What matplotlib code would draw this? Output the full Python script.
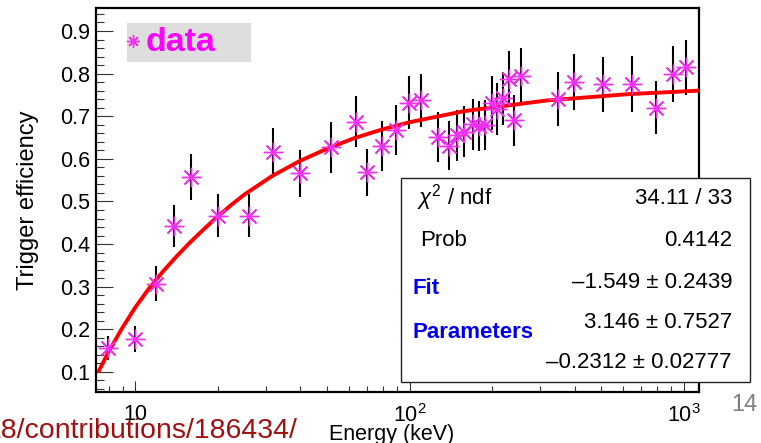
import numpy as np
import matplotlib
matplotlib.use("Agg")
import matplotlib.pyplot as plt
from matplotlib.ticker import FixedLocator, LogLocator, MultipleLocator, FormatStrFormatter, NullFormatter
from matplotlib.patches import Rectangle
from matplotlib.lines import Line2D

plt.rcParams['font.family'] = ['Liberation Sans', 'DejaVu Sans']
plt.rcParams['mathtext.fontset'] = 'custom'
plt.rcParams['mathtext.rm'] = 'Liberation Sans'
plt.rcParams['mathtext.it'] = 'Liberation Sans:italic'

# data points (keV, efficiency, error)
energy = [7.97, 9.98, 11.96, 13.9, 15.94, 20.0, 25.9, 31.9, 39.8, 51.6, 63.8, 69.8,
          79.6, 89.4, 99.2, 109.7, 127.5, 139.8, 149.4, 158.5, 169.9, 179.7, 189.0,
          199.8, 208.9, 219.8, 229.7, 239.5, 255.3, 348.3, 398.0, 508.7, 645.6,
          793.0, 914.0, 1014.0]
eff = [0.156, 0.177, 0.307, 0.443, 0.557, 0.467, 0.467, 0.616, 0.566, 0.627, 0.687, 0.569,
       0.631, 0.668, 0.732, 0.737, 0.652, 0.631, 0.655, 0.664, 0.681, 0.677, 0.680,
       0.731, 0.717, 0.742, 0.788, 0.691, 0.795, 0.741, 0.780, 0.775, 0.776,
       0.720, 0.800, 0.815]
err = [0.028, 0.031, 0.041, 0.049, 0.054, 0.051, 0.051, 0.056, 0.055, 0.059, 0.060, 0.055,
       0.059, 0.059, 0.063, 0.063, 0.059, 0.058, 0.059, 0.059, 0.060, 0.059, 0.059,
       0.063, 0.061, 0.063, 0.065, 0.060, 0.064, 0.063, 0.065, 0.064, 0.065,
       0.062, 0.066, 0.065]

# fit curve
fit_e = [7.38, 7.94, 8.91, 10.0, 11.2, 12.6, 14.1, 15.8, 17.8, 20.0, 22.4, 25.1,
         31.6, 39.8, 50.1, 63.1, 79.4, 100.0, 158.0, 316.0, 631.0, 1122.0]
fit_v = [0.103, 0.143, 0.200, 0.251, 0.295, 0.335, 0.370, 0.403, 0.435, 0.465, 0.492, 0.517,
         0.560, 0.595, 0.624, 0.649, 0.669, 0.686, 0.712, 0.737, 0.752, 0.760]

stat_names = ["$\\chi^{2}$ / ndf", "Prob"]
stat_vals = ["34.11 / 33", "0.4142"]
par_vals = ["\u20131.549 \u00b1 0.2439", "3.146 \u00b1 0.7527", "\u20130.2312 \u00b1 0.02777"]

W, H = 761, 443
fig = plt.figure(figsize=(W / 100, H / 100), dpi=100)
ax = fig.add_axes([96 / W, 1 - 392 / H, 603 / W, 384 / H])

def fx(px):
    return px / W

def fy(py):
    return 1 - py / H

ax.plot(fit_e, fit_v, color='#ff0000', lw=2.8, zorder=3, solid_joinstyle='round')
ax.errorbar(energy, eff, yerr=err, fmt='none', ecolor='black', elinewidth=1.5, capsize=0, zorder=2)
ax.plot(energy, eff, ls='none', marker=(8, 2, 0), ms=14, mew=1.0, color='#f030f0', zorder=4)

ax.set_xscale('log')
ax.set_xlim(7.2, 1135)
ax.set_ylim(0.053, 0.954)

ax.xaxis.set_major_locator(FixedLocator([10, 100, 1000]))
ax.set_xticklabels(["10", "$10^{2}$", "$10^{3}$"])
ax.xaxis.set_minor_locator(LogLocator(base=10, subs=np.arange(2, 10)))
ax.xaxis.set_minor_formatter(NullFormatter())
ax.yaxis.set_major_locator(MultipleLocator(0.1))
ax.yaxis.set_minor_locator(MultipleLocator(0.02))
ax.yaxis.set_major_formatter(FormatStrFormatter('%.1f'))

ax.tick_params(axis='both', which='both', direction='in', top=False, right=False, width=0.8, color='#333333')
ax.tick_params(axis='x', which='major', length=8, pad=9, labelsize=15.5)
ax.tick_params(axis='x', which='minor', length=4)
ax.tick_params(axis='y', which='major', length=12, pad=4, labelsize=15.5)
ax.tick_params(axis='y', which='minor', length=6)
for s in ax.spines.values():
    s.set_linewidth(1.6)

fig.text(fx(28), fy(200), "Trigger efficiency", rotation=90, ha='center', va='center', fontsize=17)
fig.text(fx(392), fy(440), "Energy (keV)", ha='center', va='baseline', fontsize=15.5)

# legend box
fig.add_artist(Rectangle((fx(127), fy(62)), (251 - 127) / W, (62 - 23) / H,
                         transform=fig.transFigure, facecolor='#dedede', edgecolor='none', zorder=5))
fig.add_artist(Line2D([fx(133)], [fy(41)], marker=(8, 2, 0), ms=9, mew=1.0, color='#f030f0',
                      transform=fig.transFigure, zorder=6))
fig.text(fx(146), fy(51), "data", color='#ff00ff', fontsize=24.5, fontweight='bold', ha='left', va='baseline', zorder=6)

# stats box
fig.add_artist(Rectangle((fx(401), fy(382)), (750 - 401) / W, (382 - 178) / H,
                         transform=fig.transFigure, facecolor='white', edgecolor='#222222', lw=1.0, zorder=5))
fig.text(fx(417), fy(198), stat_names[0], fontsize=16, ha='left', va='center', zorder=6)
fig.text(fx(420), fy(240), stat_names[1], fontsize=16, ha='left', va='center', zorder=6)
fig.text(fx(732), fy(198), stat_vals[0], fontsize=16, ha='right', va='center', zorder=6)
fig.text(fx(732), fy(240), stat_vals[1], fontsize=16, ha='right', va='center', zorder=6)
fig.text(fx(412), fy(289), "Fit", fontsize=16, color='#0000ee', fontweight='bold', ha='left', va='center', zorder=6)
fig.text(fx(412), fy(332), "Parameters", fontsize=16, color='#0000ee', fontweight='bold', ha='left', va='center', zorder=6)
for row_y, txt in zip([282, 322, 362], par_vals):
    fig.text(fx(732), fy(row_y), txt, fontsize=16, ha='right', va='center', zorder=6)

# slide leftovers
fig.text(fx(-14), fy(438), "18/contributions/186434/", color='#a01010', fontsize=20.5, ha='left', va='baseline', zorder=7)
fig.text(fx(744), fy(405), "14", color='#808080', fontsize=17, ha='center', va='center')

fig.savefig("out.png", dpi=100)
